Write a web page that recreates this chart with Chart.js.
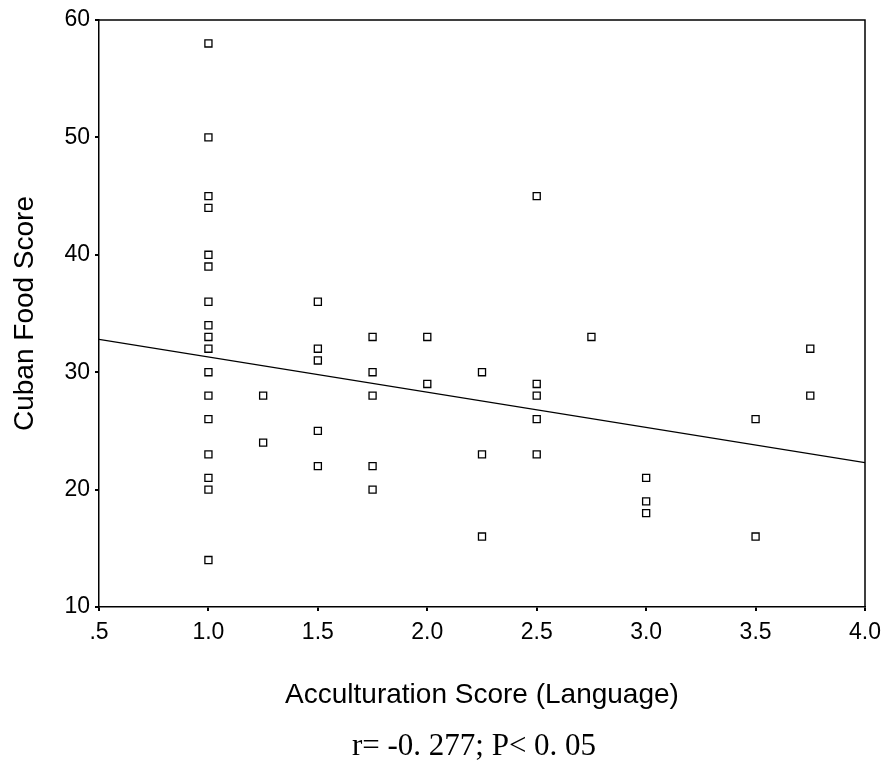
<!DOCTYPE html>
<html>
<head>
<meta charset="utf-8">
<script src="https://cdn.jsdelivr.net/npm/chart.js@4/dist/chart.umd.min.js"></script>
<style>
  html, body { margin: 0; padding: 0; background: #fff; }
  #wrap { width: 886px; height: 769px; }
</style>
</head>
<body>
<div id="wrap"><canvas id="scatterChart"></canvas></div>
<script>
// acculturation score (language) vs cuban food score
const acculturation = [
    1.0, 1.0, 1.0, 1.0, 1.0, 1.0, 1.0, 1.0, 1.0, 1.0, 1.0, 1.0, 1.0, 1.0, 1.0, 1.0, 1.0,
    1.25, 1.25,
    1.5, 1.5, 1.5, 1.5, 1.5,
    1.75, 1.75, 1.75, 1.75, 1.75,
    2.0, 2.0,
    2.25, 2.25, 2.25,
    2.5, 2.5, 2.5, 2.5, 2.5,
    2.75,
    3.0, 3.0, 3.0,
    3.5, 3.5,
    3.75, 3.75
];
const foodScore = [
    58, 50, 45, 44, 40, 39, 36, 34, 33, 32, 30, 28, 26, 23, 21, 20, 14,
    28, 24,
    36, 32, 31, 25, 22,
    33, 30, 28, 22, 20,
    33, 29,
    30, 23, 16,
    45, 29, 28, 26, 23,
    33,
    21, 19, 18,
    26, 16,
    32, 28
];
// fitted line end points
const fitX = [0.5, 4.0];
const fitY = [32.8, 22.3];

const xTicks = [0.5, 1.0, 1.5, 2.0, 2.5, 3.0, 3.5, 4.0];
const yTicks = [10, 20, 30, 40, 50, 60];

const statText = 'r= -0. 277; P< 0. 05';

const points = acculturation.map((x, i) => ({ x: x, y: foodScore[i] }));
const fitLine = fitX.map((x, i) => ({ x: x, y: fitY[i] }));

// top and right sides of the box, plus the stats line under the x title
const frame = {
    id: 'frame',
    afterDraw(chart) {
        const a = chart.chartArea;
        const c = chart.ctx;
        c.save();
        c.strokeStyle = '#000';
        c.lineWidth = 1.5;
        c.beginPath();
        c.moveTo(a.left, a.top);
        c.lineTo(a.right, a.top);
        c.lineTo(a.right, a.bottom);
        c.stroke();

        c.fillStyle = '#000';
        c.font = "31px 'Liberation Serif', 'Times New Roman', serif";
        c.textAlign = 'center';
        c.textBaseline = 'middle';
        c.fillText(statText, (a.left + a.right) / 2 - 8, a.bottom + 140);
        c.restore();
    }
};

const sans = "'Liberation Sans', Arial, sans-serif";

new Chart(document.getElementById('scatterChart'), {
    type: 'scatter',
    data: {
        datasets: [
            {
                label: 'Cases',
                data: points,
                pointStyle: 'rect',
                pointRadius: 5,
                pointBackgroundColor: '#fff',
                pointBorderColor: '#000',
                pointBorderWidth: 1.3,
                order: 1
            },
            {
                label: 'Fit',
                data: fitLine,
                showLine: true,
                borderColor: '#000',
                borderWidth: 1.3,
                pointRadius: 0,
                order: 2
            }
        ]
    },
    options: {
        responsive: true,
        maintainAspectRatio: false,
        animation: false,
        layout: { padding: { left: 0, right: 21, top: 20, bottom: 42 } },
        plugins: {
            legend: { display: false },
            tooltip: { enabled: false }
        },
        scales: {
            x: {
                type: 'linear',
                min: 0.5,
                max: 4.0,
                afterBuildTicks: (s) => { s.ticks = xTicks.map(v => ({ value: v })); },
                afterFit: (s) => {
                    s.height = 120;
                    s.paddingLeft = 0;
                    s.paddingRight = 0;
                },
                ticks: {
                    color: '#000',
                    font: { family: sans, size: 23 },
                    padding: 8,
                    maxRotation: 0,
                    callback: (v) => v === 0.5 ? '.5' : v.toFixed(1)
                },
                grid: { display: true, drawOnChartArea: false, drawTicks: true, tickLength: 4, color: '#000', lineWidth: 2 },
                border: { display: true, color: '#000', width: 1.5 },
                title: {
                    display: true,
                    text: 'Acculturation Score (Language)',
                    color: '#000',
                    font: { family: sans, size: 28 },
                    padding: { top: 0, bottom: 15 }
                }
            },
            y: {
                min: 10,
                max: 60,
                afterBuildTicks: (s) => { s.ticks = yTicks.map(v => ({ value: v })); },
                afterFit: (s) => { s.width = 99; },
                ticks: {
                    color: '#000',
                    font: { family: sans, size: 23 },
                    padding: 5
                },
                grid: { display: true, drawOnChartArea: false, drawTicks: true, tickLength: 4, color: '#000', lineWidth: 2 },
                border: { display: true, color: '#000', width: 1.5 },
                title: {
                    display: true,
                    text: 'Cuban Food Score',
                    color: '#000',
                    font: { family: sans, size: 28 },
                    padding: { top: 8, bottom: 0 }
                }
            }
        }
    },
    plugins: [frame]
});
</script>
</body>
</html>
